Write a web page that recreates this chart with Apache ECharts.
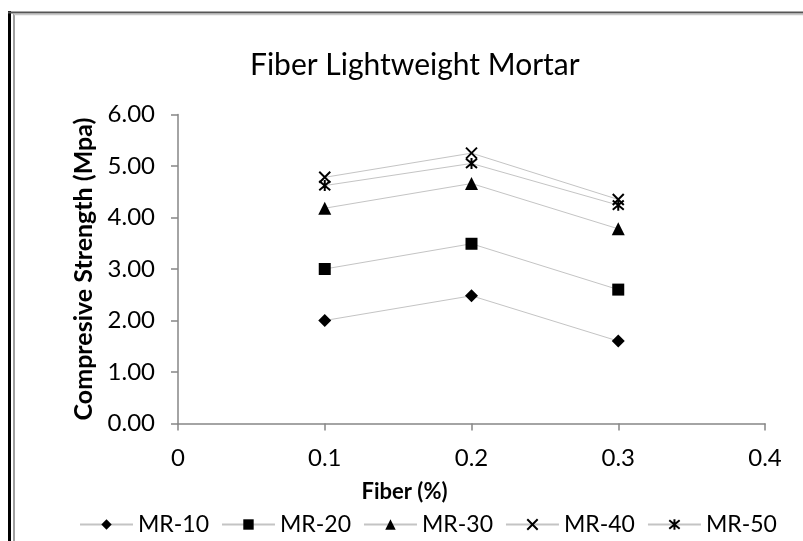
<!DOCTYPE html>
<html>
<head>
<meta charset="utf-8">
<script src="https://cdn.jsdelivr.net/npm/echarts@6/dist/echarts.min.js"></script>
<style>
html,body{margin:0;padding:0;background:#fff;}
#c{width:803px;height:541px;}
</style>
</head>
<body>
<div id="c"></div>
<script>
var fiber = [0.1, 0.2, 0.3];
var seriesNames = ['MR-10', 'MR-20', 'MR-30', 'MR-40', 'MR-50'];
var mr10 = [2.00, 2.48, 1.60];
var mr20 = [3.00, 3.49, 2.60];
var mr30 = [4.18, 4.66, 3.78];
var mr40 = [4.78, 5.25, 4.35];
var mr50 = [4.62, 5.05, 4.24];
var xTicks = ['0', '0.1', '0.2', '0.3', '0.4'];
var yTicks = ['0.00', '1.00', '2.00', '3.00', '4.00', '5.00', '6.00'];

var FONT = 'Lato';
var xSym = 'path://M0,0L10,10M10,0L0,10';
var starSym = 'path://M0,0L10,10M10,0L0,10M5,-1L5,11';

function pts(vals) {
  return fiber.map(function (f, i) { return [f, vals[i]]; });
}
var allVals = [mr10, mr20, mr30, mr40, mr50];
var symbols = ['diamond', 'rect', 'triangle', xSym, starSym];
var sizes = [13, 12, 13, 11, 11];

var series = allVals.map(function (v, i) {
  var isPath = i >= 3;
  return {
    name: seriesNames[i],
    type: 'line',
    data: pts(v),
    symbol: symbols[i],
    symbolSize: sizes[i],
    showAllSymbol: true,
    lineStyle: { color: '#c4c4c4', width: 1 },
    itemStyle: isPath ? { color: 'rgba(0,0,0,0)', borderColor: '#000', borderWidth: 2 } : { color: '#000', borderWidth: 0 },
    emphasis: { disabled: true },
    animation: false
  };
});

var chart = echarts.init(document.getElementById('c'), null, { renderer: 'canvas' });
chart.setOption({
  backgroundColor: '#fff',
  animation: false,
  title: {
    text: 'Fiber Lightweight Mortar',
    left: 245,
    top: 45,
    textStyle: { fontFamily: FONT, fontSize: 30, fontWeight: 'normal', color: '#000' }
  },
  grid: { left: 178, right: 38, top: 114.5, bottom: 117.5, containLabel: false },
  legend: {
    top: 508,
    left: 74,
    itemWidth: 53,
    itemHeight: 13,
    itemGap: 12,
    data: seriesNames,
    textStyle: { fontFamily: FONT, fontSize: 23, color: '#000', padding: [0, 0, 0, 0] },
    selectedMode: false
  },
  xAxis: {
    type: 'value',
    min: 0, max: 0.4, interval: 0.1,
    name: 'Fiber (%)',
    nameLocation: 'middle',
    nameGap: 57,
    nameTextStyle: { fontFamily: FONT, fontSize: 22, fontWeight: 'bold', color: '#000', padding: [0, 134, 0, 0] },
    axisLine: { show: true, lineStyle: { color: '#868686', width: 1.5 } },
    axisTick: { show: true, length: 7, lineStyle: { color: '#868686', width: 1.5 } },
    splitLine: { show: false },
    axisLabel: {
      margin: 23,
      fontFamily: FONT, fontSize: 24, color: '#000',
      formatter: function (v) { return xTicks[Math.round(v * 10)]; }
    }
  },
  yAxis: {
    type: 'value',
    min: 0, max: 6, interval: 1,
    name: 'Compresive Strength (Mpa)',
    nameLocation: 'middle',
    nameGap: 80,
    nameTextStyle: { fontFamily: FONT, fontSize: 25, fontWeight: 'bold', color: '#000' },
    axisLine: { show: true, lineStyle: { color: '#868686', width: 1.5 } },
    axisTick: { show: true, length: 7, lineStyle: { color: '#868686', width: 1.5 } },
    splitLine: { show: false },
    axisLabel: {
      margin: 23,
      fontFamily: FONT, fontSize: 24, color: '#000',
      formatter: function (v) { return yTicks[Math.round(v)]; }
    }
  },
  graphic: [
    { type: 'line', shape: { x1: 9.5, y1: 11, x2: 9.5, y2: 541 }, style: { stroke: '#000', lineWidth: 3 }, silent: true },
    { type: 'line', shape: { x1: 14, y1: 14, x2: 14, y2: 541 }, style: { stroke: '#a0a0a0', lineWidth: 2 }, silent: true },
    { type: 'line', shape: { x1: 8, y1: 12.5, x2: 803, y2: 12.5 }, style: { stroke: '#555', lineWidth: 2 }, silent: true },
    { type: 'line', shape: { x1: 14, y1: 14.5, x2: 803, y2: 14.5 }, style: { stroke: '#c8c8c8', lineWidth: 1.5 }, silent: true }
  ],
  series: series
});
</script>
</body>
</html>
